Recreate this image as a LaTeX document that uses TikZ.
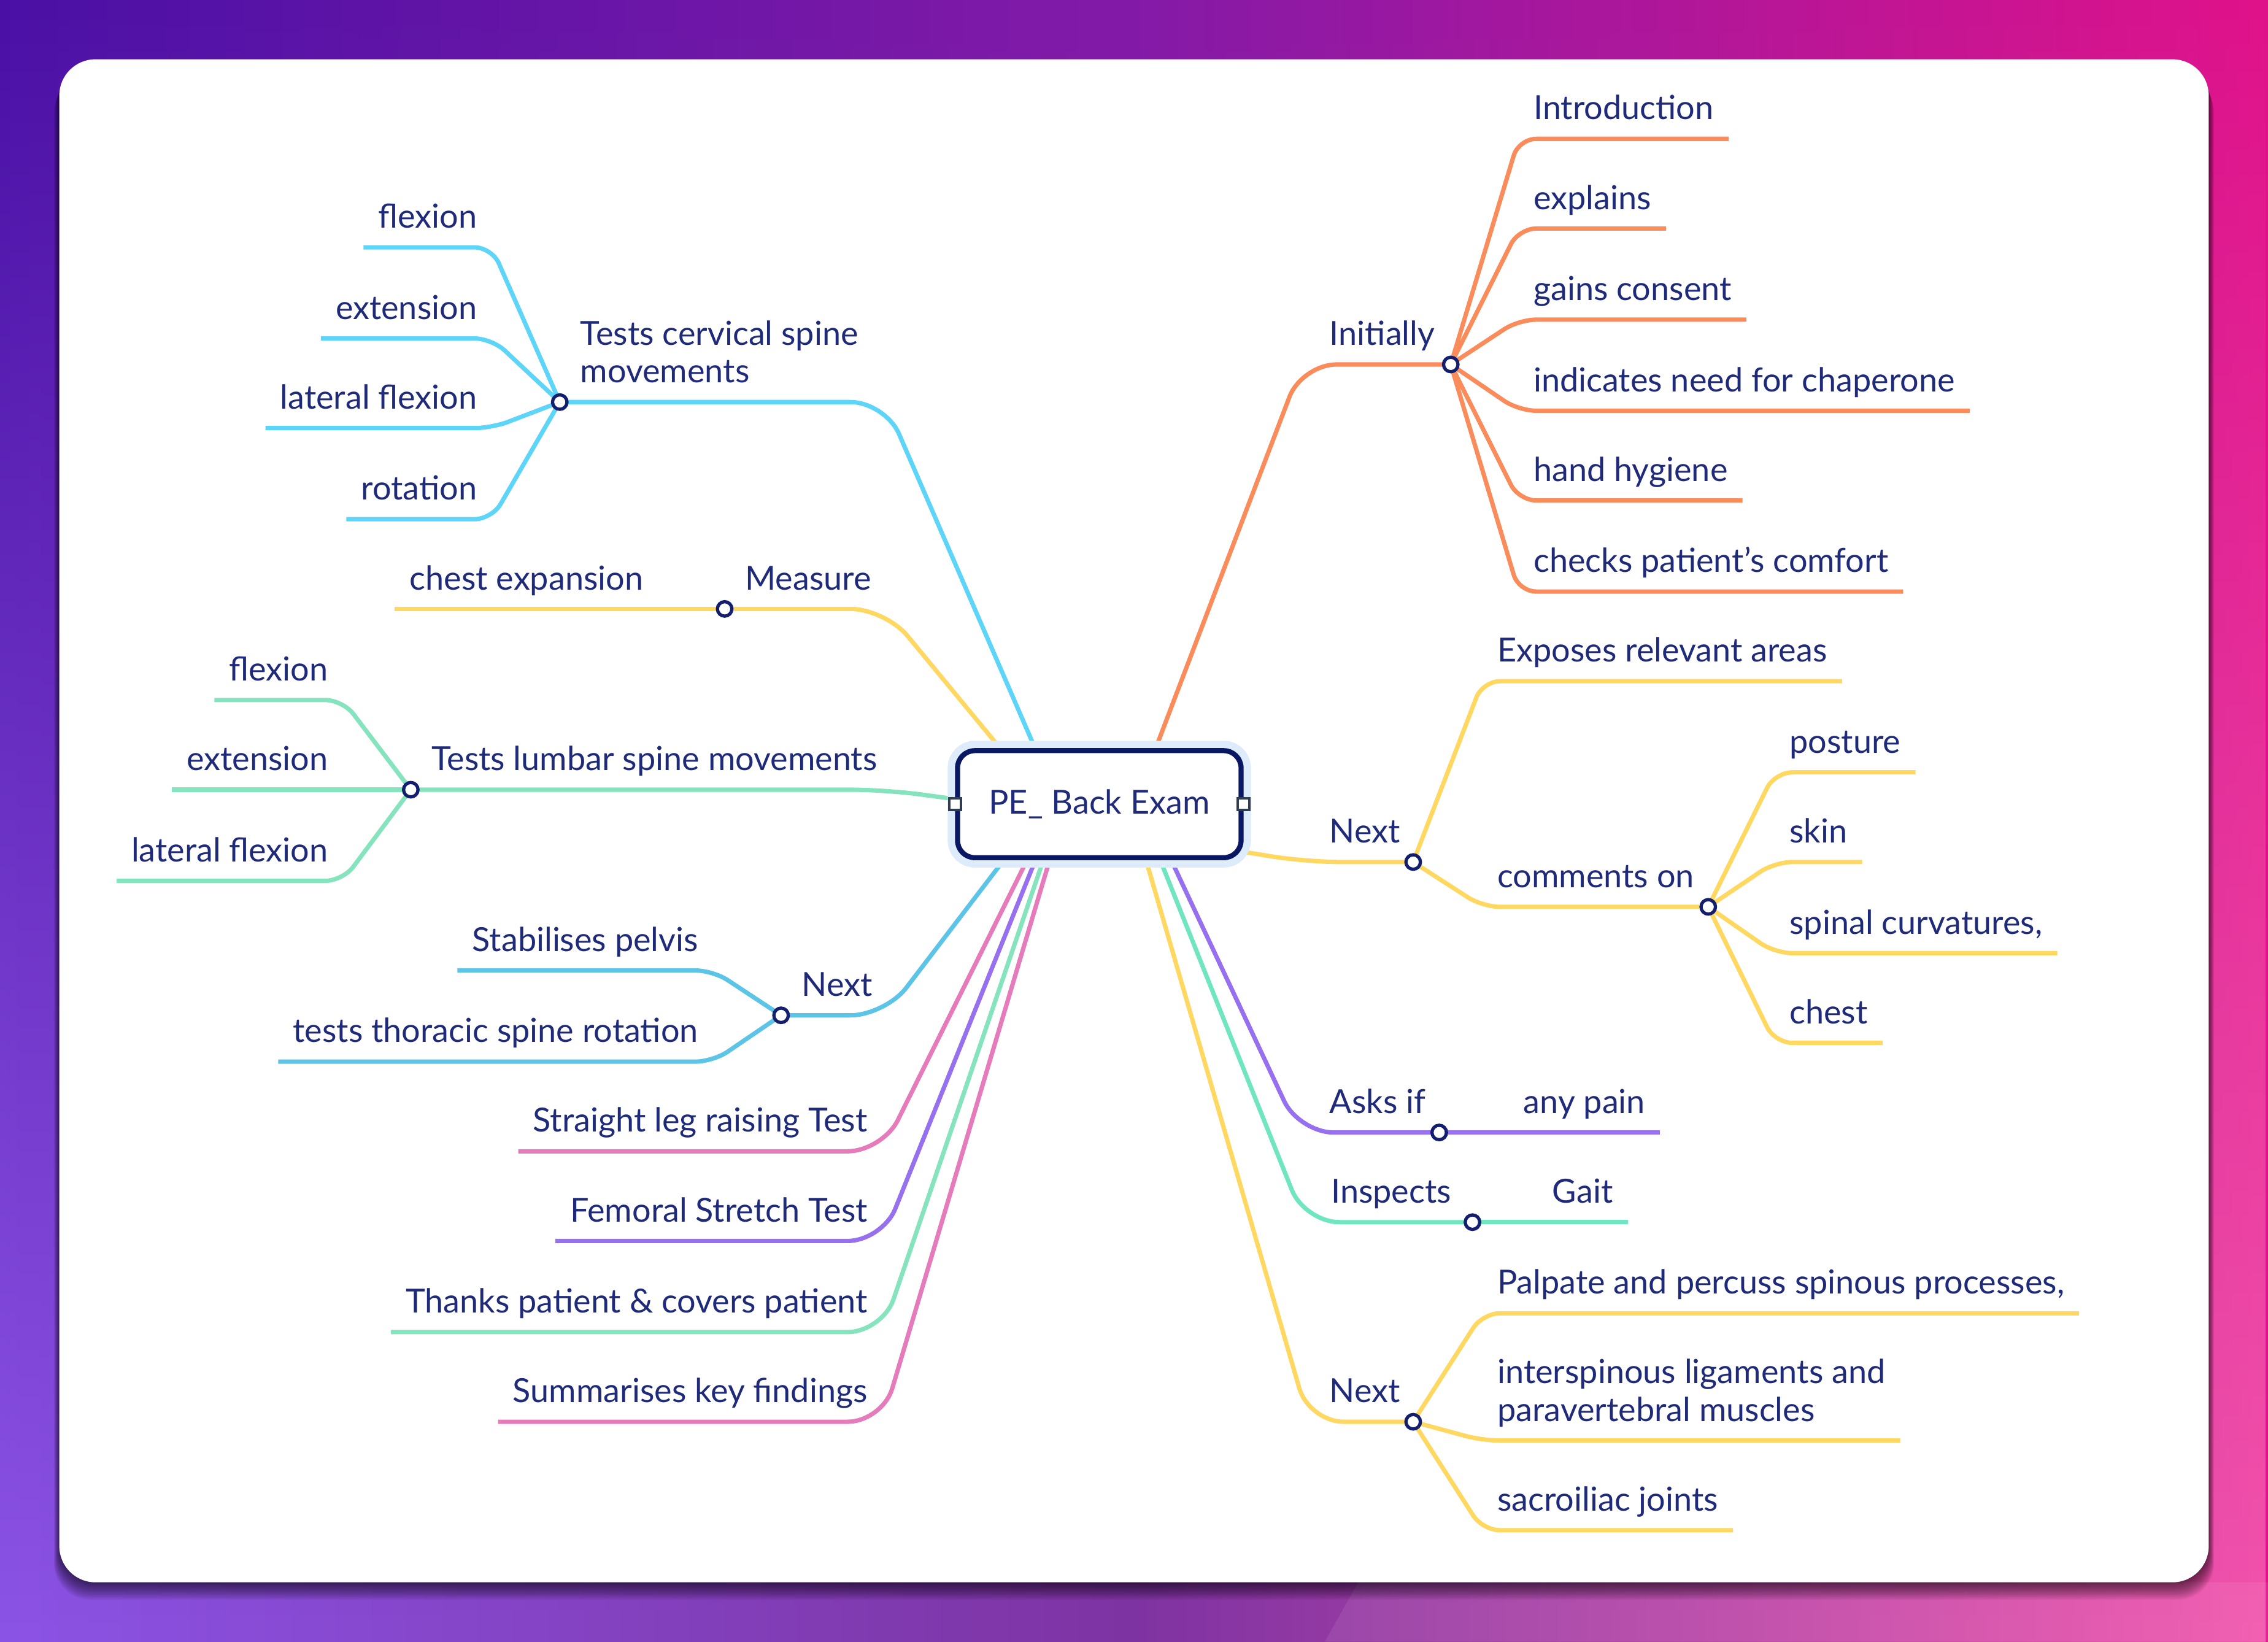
\documentclass[tikz,border=0pt]{standalone}
\usepackage{fontspec}
\setmainfont{Lato}
\usetikzlibrary{calc,fadings}
\definecolor{bgTL}{RGB}{74,16,165}
\definecolor{bgTM}{RGB}{132,26,168}
\definecolor{bgTR}{RGB}{224,18,138}
\definecolor{bgBL}{RGB}{140,84,230}
\definecolor{bgBM}{RGB}{126,52,162}
\definecolor{bgBR}{RGB}{242,84,172}
\definecolor{txt}{RGB}{31,42,120}
\definecolor{hubc}{RGB}{20,30,110}
\definecolor{rootc}{RGB}{10,24,100}
\definecolor{halo}{RGB}{221,235,251}
\definecolor{portc}{RGB}{47,61,79}
\definecolor{orng}{RGB}{250,140,92}
\definecolor{yel}{RGB}{255,216,98}
\definecolor{cyn}{RGB}{92,213,248}
\definecolor{blu}{RGB}{92,196,230}
\definecolor{mntL}{RGB}{133,227,190}
\definecolor{mntR}{RGB}{111,230,191}
\definecolor{pnk}{RGB}{229,123,187}
\definecolor{prp}{RGB}{150,112,238}
\pgfdeclarelayer{fg}
\pgfsetlayers{main,fg}
\newcommand\mmfont{\fontsize{16.3pt}{18.6pt}\selectfont}
\begin{document}
\begin{tikzpicture}[x=0.025cm,y=-0.025cm,
  br/.style={line width=0.075cm, rounded corners=0.6cm},
  sub/.style={line width=0.075cm, rounded corners=0.3cm},
  lbl/.style={font=\mmfont, text=txt, inner xsep=0.25cm, inner ysep=0.325cm, text depth=0pt},
  leafR/.style={lbl, anchor=south west},
  leafL/.style={lbl, anchor=south east},
  hub/.style={circle, draw=hubc, fill=white, line width=1.6pt, minimum size=0.25cm, inner sep=0pt},
  rootbox/.style={draw=rootc, line width=0.0875cm, fill=white, rounded corners=0.3cm,
    minimum width=4.9cm, minimum height=1.85cm, font=\mmfont, text=txt,
    preaction={draw=halo, line width=0.34cm}},
  port/.style={rectangle, draw=portc, fill=white, line width=1.1pt, minimum size=0.2cm, inner sep=0pt}
]
\useasboundingbox (0,0) rectangle (1568,1135);
% background
\shade[left color=bgTL, right color=bgTR, middle color=bgTM] (0,0) rectangle (1568,1135);
\shade[left color=bgBL, right color=bgBR, middle color=bgBM, path fading=north] (0,0) rectangle (1568,1135);
\fill[white, opacity=0.08] (939,1094) -- (916,1135) -- (1568,1135) -- (1568,1094) -- cycle;
% card shadow and card
\foreach \i in {1,...,12}{
  \fill[black, opacity=0.06, rounded corners=0.625cm] (41-0.3*\i,41+1.0*\i) rectangle (1527+0.3*\i,1094+1.0*\i);
}
\fill[white, rounded corners=0.625cm] (41,41) rectangle (1527,1094);

% central node
\begin{pgfonlayer}{fg}
\node[rootbox] (root) at (760,556) {PE\_ Back Exam};
\node[port] (pl) at (root.west) {};
\node[port] (pr) at (root.east) {};
\end{pgfonlayer}

% ---------- right side ----------
% Initially
\node[leafR] (tA) at (909,252) {Initially};
\coordinate (kA) at (900,252);
\node[leafR] (a1) at (1050,96) {Introduction};
\node[leafR] (a2) at (1050,158) {explains};
\node[leafR] (a3) at (1050,221) {gains consent};
\node[leafR] (a4) at (1050,284) {indicates need for chaperone};
\node[leafR] (a5) at (1050,346) {hand hygiene};
\node[leafR] (a6) at (1050,409) {checks patient’s comfort};
% Next (upper)
\node[leafR] (tB) at (909,596) {Next};
\coordinate (kB) at (903,596);
\node[leafR] (b1) at (1025,471) {Exposes relevant areas};
\node[leafR] (b2) at (1025,627) {comments on};
\node[leafR] (c1) at (1227,534) {posture};
\node[leafR] (c2) at (1227,596) {skin};
\node[leafR] (c3) at (1227,659) {spinal curvatures,};
\node[leafR] (c4) at (1227,721) {chest};
% Asks if
\node[leafR] (tC) at (909,783) {Asks if};
\coordinate (kC) at (898,783);
\node[leafR] (d1) at (1043,783) {any pain};
% Inspects
\node[leafR] (tD) at (910,845) {Inspects};
\coordinate (kD) at (902,845);
\node[leafR] (gait) at (1063,845) {Gait};
% Next (lower)
\node[leafR] (tE) at (909,983) {Next};
\coordinate (kE) at (905,983);
\node[leafR] (p1) at (1025,908) {Palpate and percuss spinous processes,};
\node[leafR] (p2) at (1025,996) {\begin{tabular}[b]{@{}l@{}}interspinous ligaments and\\paravertebral muscles\end{tabular}};
\node[leafR] (p3) at (1025,1058) {sacroiliac joints};

% ---------- left side ----------
\node[leafR] (tF) at (391,278) {\begin{tabular}[b]{@{}l@{}}Tests cervical spine\\movements\end{tabular}};
\coordinate (kF) at (612,278);
\node[leafL] (f1) at (340,171) {flexion};
\node[leafL] (f2) at (340,234) {extension};
\node[leafL] (f3) at (340,296) {lateral flexion};
\node[leafL] (f4) at (340,359) {rotation};
\node[leafR] (tG) at (505,421) {Measure};
\coordinate (kG) at (612,421);
\node[leafL] (g1) at (455,421) {chest expansion};
\node[leafR] (tH) at (288,546) {Tests lumbar spine movements};
\coordinate (kH) at (612,546);
\node[leafL] (h1) at (237,484) {flexion};
\node[leafL] (h2) at (237,546) {extension};
\node[leafL] (h3) at (237,609) {lateral flexion};
\node[leafR] (tI) at (544,702) {Next};
\coordinate (kI) at (612,702);
\node[leafL] (i1) at (493,671) {Stabilises pelvis};
\node[leafL] (i2) at (493,734) {tests thoracic spine rotation};
\node[leafL] (nj) at (610,796) {Straight leg raising Test};
\node[leafL] (nk) at (610,858) {Femoral Stretch Test};
\node[leafL] (nl) at (610,921) {Thanks patient \& covers patient};
\node[leafL] (nm) at (610,983) {Summarises key findings};

% hubs
\begin{pgfonlayer}{fg}
\node[hub] (hA) at (1003,252) {};
\node[hub] (hB) at (977,596) {};
\node[hub] (hC) at (1181,627) {};
\node[hub] (hD) at (995,783) {};
\node[hub] (hE) at (1018,845) {};
\node[hub] (hF) at (977,983) {};
\node[hub] (hG) at (387,278) {};
\node[hub] (hH) at (501,421) {};
\node[hub] (hI) at (284,546) {};
\node[hub] (hJ) at (540,702) {};
\end{pgfonlayer}

% ---------- connectors ----------
\draw[br, orng] ($(root.north)+(36,8)$) -- (kA) -- (hA.center);
\foreach \n in {a1,a2,a3,a4,a5,a6}{
  \draw[sub, orng] (hA.center) -- (\n.south west) -- (\n.south east);
}
\draw[br, yel] ($(root.east)+(-6,32)$) -- (kB) -- (hB.center);
\draw[sub, yel] (hB.center) -- (b1.south west) -- (b1.south east);
\draw[sub, yel] (hB.center) -- (b2.south west) -- (hC.center);
\foreach \n in {c1,c2,c3,c4}{
  \draw[sub, yel] (hC.center) -- (\n.south west) -- (\n.south east);
}
\draw[br, prp] ($(root.south)+(46,-8)$) -- (kC) -- (hD.center);
\draw[sub, prp] (hD.center) -- (d1.south west) -- (d1.south east);
\draw[br, mntR] ($(root.south)+(39,-8)$) -- (kD) -- (hE.center);
\draw[sub, mntR] (hE.center) -- (gait.south west) -- (gait.south east);
\draw[br, yel] ($(root.south)+(30,-8)$) -- (kE) -- (hF.center);
\foreach \n in {p1,p2,p3}{
  \draw[sub, yel] (hF.center) -- (\n.south west) -- (\n.south east);
}
\draw[br, cyn] ($(root.north)+(-41,8)$) -- (kF) -- (hG.center);
\foreach \n in {f1,f2,f3,f4}{
  \draw[sub, cyn] (hG.center) -- (\n.south east) -- (\n.south west);
}
\draw[br, yel] ($(root.north)+(-62,8)$) -- (kG) -- (hH.center);
\draw[sub, yel] (hH.center) -- (g1.south east) -- (g1.south west);
\draw[br, mntL] ($(root.west)+(4,-3)$) -- (kH) -- (hI.center);
\foreach \n in {h1,h2,h3}{
  \draw[sub, mntL] (hI.center) -- (\n.south east) -- (\n.south west);
}
\draw[br, blu] ($(root.south)+(-60,-8)$) -- (kI) -- (hJ.center);
\foreach \n in {i1,i2}{
  \draw[sub, blu] (hJ.center) -- (\n.south east) -- (\n.south west);
}
\draw[br, pnk] ($(root.south)+(-46,-8)$) -- (nj.south east) -- (nj.south west);
\draw[br, prp] ($(root.south)+(-41,-8)$) -- (nk.south east) -- (nk.south west);
\draw[br, mntL] ($(root.south)+(-36,-8)$) -- (nl.south east) -- (nl.south west);
\draw[br, pnk] ($(root.south)+(-32,-8)$) -- (nm.south east) -- (nm.south west);
\end{tikzpicture}
\end{document}
